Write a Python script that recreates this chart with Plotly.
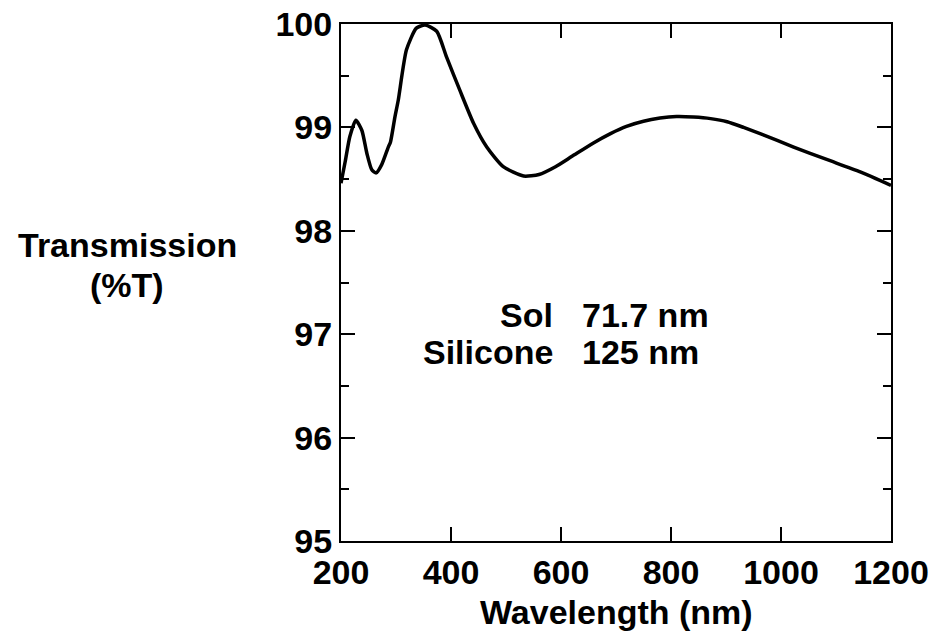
import plotly.graph_objects as go

# Data
wavelength = [200, 208, 216, 227, 238, 247, 256, 264, 274, 286, 290, 298, 304, 319, 337,
              353, 374, 392, 416, 441, 465, 495, 532, 560, 590, 620, 659, 690, 719, 750,
              780, 810, 841, 872, 902, 932, 962, 1023, 1083, 1144, 1200]
transmission = [98.46, 98.68, 98.91, 99.07, 98.97, 98.75, 98.59, 98.56, 98.64, 98.81, 98.86,
                99.10, 99.26, 99.75, 99.96, 99.99, 99.93, 99.68, 99.36, 99.04, 98.81, 98.62,
                98.53, 98.545, 98.62, 98.72, 98.85, 98.94, 99.01, 99.06, 99.09, 99.105, 99.10,
                99.085, 99.055, 99.00, 98.94, 98.81, 98.69, 98.57, 98.44]

x_ticks = [200, 400, 600, 800, 1000, 1200]
y_ticks = [95, 96, 97, 98, 99, 100]

labels = ["Sol", "Silicone"]
values = ["71.7 nm", "125 nm"]

FONT = "Liberation Sans, Arial, Helvetica, sans-serif"
FS = 34

fig = go.Figure()
fig.add_trace(go.Scatter(
    x=wavelength, y=transmission, mode="lines",
    line=dict(color="black", width=3.5, shape="spline", smoothing=0.6),
    cliponaxis=False, showlegend=False,
))

axis_common = dict(
    showline=True, linecolor="black", linewidth=2, mirror="ticks",
    ticks="inside", tickcolor="black", tickwidth=1.5, ticklen=14,
    showgrid=False, zeroline=False,
    tickfont=dict(family=FONT, size=FS, color="black", weight="bold"),
)

fig.update_xaxes(range=[200, 1200], tickvals=x_ticks, ticktext=[str(v) for v in x_ticks],
                 **axis_common)
fig.update_yaxes(range=[95, 100], tickvals=y_ticks, ticktext=[str(v) for v in y_ticks],
                 minor=dict(dtick=0.5, ticks="inside", ticklen=8, tickcolor="black", tickwidth=1.5),
                 **axis_common)

ann_font = dict(family=FONT, size=FS, color="black", weight="bold")
fig.add_annotation(text="Transmission", xref="paper", yref="paper", x=-0.389, y=0.5725,
                   showarrow=False, xanchor="center", yanchor="middle", font=ann_font)
fig.add_annotation(text="(%T)", xref="paper", yref="paper", x=-0.389, y=0.495,
                   showarrow=False, xanchor="center", yanchor="middle", font=ann_font)
fig.add_annotation(text="Wavelength (nm)", xref="paper", yref="paper", x=0.5, y=-0.137,
                   showarrow=False, xanchor="center", yanchor="middle", font=ann_font)

label_y = [97.186, 96.83]
for lab, val, yy in zip(labels, values, label_y):
    fig.add_annotation(text=lab, x=589, y=yy, showarrow=False, xanchor="right",
                       yanchor="middle", font=ann_font)
    fig.add_annotation(text=val, x=634.5, y=yy, showarrow=False, xanchor="left",
                       yanchor="middle", font=ann_font)

fig.update_layout(
    width=937, height=641,
    margin=dict(l=341, r=46, t=24, b=100, autoexpand=False),
    paper_bgcolor="white", plot_bgcolor="white",
)

fig.write_html("out.html", config={"displayModeBar": False},
               post_script="document.body.style.margin='0';")
